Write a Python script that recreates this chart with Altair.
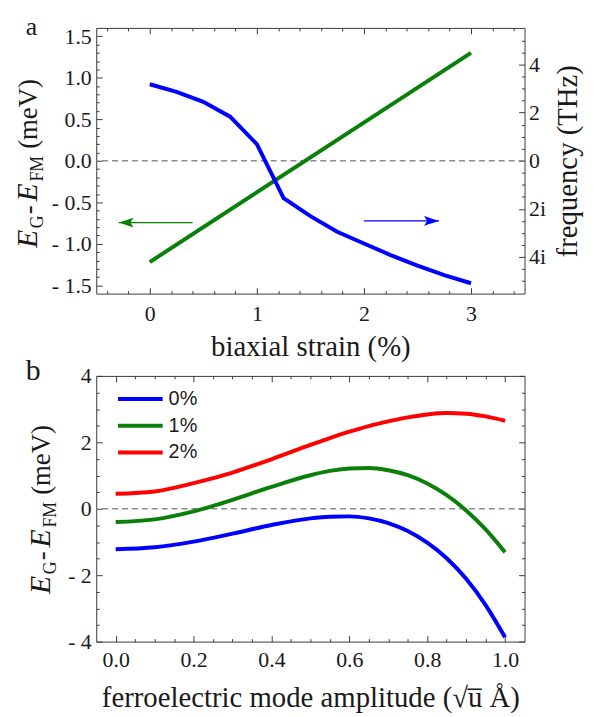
import altair as alt
import pandas as pd

SERIF = "Liberation Serif"
SANS = "Liberation Sans"
FRAME = "#3a3a3a"
INK = "#1a1a1a"
GREEN = "#0a800a"
BLUE = "#0000ff"
RED = "#ff0000"
DASH = "#8c8c8c"

# ---------------- panel a data ----------------
STRAIN_ENERGY = [0.0, 3.0]
ENERGY = [-1.22, 1.30]
STRAIN_FREQ = [0.0, 0.25, 0.5, 0.75, 1.0, 1.25, 1.5, 1.75, 2.0, 2.25, 2.5, 2.75, 3.0]
FREQ = [3.18, 2.86, 2.45, 1.83, 0.69, -1.55, -2.30, -2.95, -3.44, -3.92, -4.36, -4.75, -5.09]
GREEN_ARROW_X = [0.40, -0.29]   # tail, tip
GREEN_ARROW_Y = [-0.745]
BLUE_ARROW_X = [2.00, 2.70]     # tail, tip
BLUE_ARROW_Y = [-2.5]

A_X_MAJOR = [0, 1, 2, 3]
A_X_MINOR = [round(-0.4 + 0.2 * k, 1) for k in range(20) if round(-0.4 + 0.2 * k, 1) not in A_X_MAJOR]
A_Y_MAJOR = [-1.5, -1.0, -0.5, 0.0, 0.5, 1.0, 1.5]
A_Y_MINOR = [round(-1.5 + 0.1 * k, 1) for k in range(31) if round(-1.5 + 0.1 * k, 1) not in A_Y_MAJOR]
A_F_MAJOR = [-4, -2, 0, 2, 4]
A_F_MINOR = [v / 2 for v in range(-10, 11) if v / 2 not in A_F_MAJOR]

# ---------------- panel b data ----------------
AMP = [0.0, 0.1, 0.2, 0.3, 0.4, 0.5, 0.55, 0.6, 0.65, 0.7, 0.75, 0.8, 0.85, 0.9, 0.95, 1.0]
E_0 = [-1.22, -1.16, -0.99, -0.75, -0.49, -0.29, -0.24, -0.23, -0.29, -0.43, -0.67, -1.02, -1.49, -2.11, -2.90, -3.87]
E_1 = [-0.40, -0.32, -0.08, 0.27, 0.66, 1.01, 1.14, 1.21, 1.23, 1.16, 1.01, 0.76, 0.41, -0.05, -0.62, -1.31]
E_2 = [0.45, 0.52, 0.77, 1.09, 1.49, 1.92, 2.13, 2.32, 2.49, 2.63, 2.75, 2.84, 2.88, 2.86, 2.78, 2.65]
SERIES = ["0%", "1%", "2%"]
COLORS = [BLUE, GREEN, RED]

B_X_MAJOR = [0.0, 0.2, 0.4, 0.6, 0.8, 1.0]
B_X_MINOR = [round(0.05 * k, 2) for k in range(0, 21) if round(0.05 * k, 2) not in B_X_MAJOR]
B_Y_MAJOR = [-4, -2, 0, 2, 4]
B_Y_MINOR = [v / 2 for v in range(-7, 8) if v / 2 not in B_Y_MAJOR]

YTITLE = ["E", "G", "-", "E", "FM", "(meV)"]
PANEL_LABELS = ["a", "b"]
X_TITLE_A = "biaxial strain (%)"
X_TITLE_B = "ferroelectric mode amplitude (\u221au\u0305 \u00c5)"
F_TITLE = "frequency (THz)"

HEAD_LEFT = "M0,0 L1,-0.33 L0.78,0 L1,0.33 Z"
HEAD_RIGHT = "M0,0 L-1,-0.33 L-0.78,0 L-1,0.33 Z"


def major(orient, values, label_expr=None, pad=5, title=None, title_pad=6, labels=True, **extra):
    kw = dict(orient=orient, values=values, tickSize=6, offset=-6, domain=False, grid=False,
              tickColor=FRAME, tickWidth=1, labels=labels, title=title)
    if labels:
        kw.update(labelFont=SERIF, labelFontSize=22, labelColor=INK, labelPadding=pad,
                  labelOverlap=False, labelFlush=False)
        if label_expr:
            kw["labelExpr"] = label_expr
    if title:
        kw.update(titleFont=SERIF, titleFontSize=29, titleFontWeight="normal",
                  titleColor=INK, titlePadding=title_pad)
    kw.update(extra)
    return alt.Axis(**kw)


def minor(orient, values):
    return alt.Axis(orient=orient, values=values, tickSize=3, offset=-3, domain=False, grid=False,
                    labels=False, tickColor=FRAME, tickWidth=1, title=None)


def text_piece(txt, x, y, size, dx=0, dy=0, italic=False, angle=270, font=SERIF):
    props = dict(angle=angle, align="left", baseline="alphabetic", font=font, fontSize=size,
                 color=INK, dx=dx, dy=dy)
    if italic:
        props["fontStyle"] = "italic"
    return alt.Chart(pd.DataFrame({"t": [txt]})).mark_text(**props).encode(
        x=alt.value(x), y=alt.value(y), text="t:N")


def y_title(xb, yb):
    spec = [(30, True, 0, 0), (18, False, 20, 6), (27, False, 34, 0),
            (30, True, 47, 0), (18, False, 67, 6), (27, False, 100, 0)]
    return [text_piece(t, xb, yb, s, dx=dx, dy=dy, italic=it)
            for t, (s, it, dx, dy) in zip(YTITLE, spec)]


# ---------------- panel a ----------------
xa = alt.Scale(domain=[-0.5, 3.5], nice=False, zero=False)
ya = alt.Scale(domain=[-1.6, 1.6], nice=False, zero=False)
fa = alt.Scale(domain=[-5.52, 5.52], nice=False, zero=False)

df_e = pd.DataFrame({"s": STRAIN_ENERGY, "e": ENERGY})
df_f = pd.DataFrame({"s": STRAIN_FREQ, "f": FREQ})

green = alt.Chart(df_e).mark_line(color=GREEN, strokeWidth=4).encode(
    x=alt.X("s:Q", scale=xa, axis=major("bottom", A_X_MAJOR, "format(datum.value, 'd')", pad=10,
                                         title=X_TITLE_A, title_pad=8)),
    y=alt.Y("e:Q", scale=ya, axis=major(
        "left", A_Y_MAJOR,
        "datum.value < 0 ? '- ' + format(-datum.value, '.1f') : format(datum.value, '.1f')", pad=5)))

blue = alt.Chart(df_f).mark_line(color=BLUE, strokeWidth=4).encode(
    x=alt.X("s:Q", scale=xa, axis=minor("bottom", A_X_MINOR)),
    y=alt.Y("f:Q", scale=fa, axis=major(
        "right", A_F_MAJOR,
        "datum.value < 0 ? format(-datum.value, 'd') + 'i' : format(datum.value, 'd')", pad=4,
        title=F_TITLE, title_pad=8, titleAngle=270, titleBaseline="top")))

zero_a = alt.Chart(pd.DataFrame({"v": [0.0]})).mark_rule(
    color=DASH, strokeDash=[6, 4], strokeWidth=1.5).encode(
    y=alt.Y("v:Q", scale=ya, axis=minor("left", A_Y_MINOR)))

g_arrow = pd.DataFrame({"x1": [GREEN_ARROW_X[0]], "x2": [GREEN_ARROW_X[1]], "y": GREEN_ARROW_Y})
b_arrow = pd.DataFrame({"x1": [BLUE_ARROW_X[0]], "x2": [BLUE_ARROW_X[1]], "y": BLUE_ARROW_Y})

g_shaft = alt.Chart(g_arrow).mark_rule(color=GREEN, strokeWidth=1.3).encode(
    x=alt.X("x1:Q", scale=xa, axis=major("top", A_X_MAJOR, labels=False)),
    x2="x2:Q",
    y=alt.Y("y:Q", scale=ya, axis=None))
g_head = alt.Chart(g_arrow).mark_point(shape=HEAD_LEFT, size=900, filled=True, color=GREEN,
                                       opacity=1, strokeWidth=0).encode(
    x=alt.X("x2:Q", scale=xa, axis=minor("top", A_X_MINOR)),
    y=alt.Y("y:Q", scale=ya, axis=None))
b_shaft = alt.Chart(b_arrow).mark_rule(color=BLUE, strokeWidth=1.3).encode(
    x=alt.X("x1:Q", scale=xa, axis=None),
    x2="x2:Q",
    y=alt.Y("y:Q", scale=fa, axis=minor("right", A_F_MINOR)))
b_head = alt.Chart(b_arrow).mark_point(shape=HEAD_RIGHT, size=900, filled=True, color=BLUE,
                                       opacity=1, strokeWidth=0).encode(
    x=alt.X("x2:Q", scale=xa, axis=None),
    y=alt.Y("y:Q", scale=fa, axis=None))

label_a = text_piece(PANEL_LABELS[0], -71, 7, 26, angle=0)

panel_a = alt.layer(
    zero_a, green, blue, g_shaft, g_head, b_shaft, b_head, label_a, *y_title(-60, 222)
).resolve_scale(x="independent", y="independent").properties(width=432, height=268)

# ---------------- panel b ----------------
xb = alt.Scale(domain=[-0.05, 1.05], nice=False, zero=False)
yb = alt.Scale(domain=[-4, 4], nice=False, zero=False)

rows = []
for name, vals in zip(SERIES, [E_0, E_1, E_2]):
    for a, v in zip(AMP, vals):
        rows.append({"amp": a, "e": v, "series": name})
df_b = pd.DataFrame(rows)

color_enc = alt.Color("series:N", scale=alt.Scale(domain=SERIES, range=COLORS), legend=None)

lines_b = alt.Chart(df_b).mark_line(strokeWidth=4, interpolate="monotone").encode(
    x=alt.X("amp:Q", scale=xb, axis=major("bottom", B_X_MAJOR, "format(datum.value, '.1f')", pad=8,
                                           title=X_TITLE_B, title_pad=13)),
    y=alt.Y("e:Q", scale=yb, axis=major(
        "left", B_Y_MAJOR,
        "datum.value < 0 ? '- ' + format(-datum.value, 'd') : format(datum.value, 'd')", pad=5)),
    color=color_enc)

zero_b = alt.Chart(pd.DataFrame({"v": [0.0]})).mark_rule(
    color=DASH, strokeDash=[6, 4], strokeWidth=1.5).encode(
    y=alt.Y("v:Q", scale=yb, axis=minor("left", B_Y_MINOR)))

ghost1 = alt.Chart(df_b).mark_line(strokeOpacity=0).encode(
    x=alt.X("amp:Q", scale=xb, axis=minor("bottom", B_X_MINOR)),
    y=alt.Y("e:Q", scale=yb, axis=major("right", B_Y_MAJOR, labels=False)),
    detail="series:N")
ghost2 = alt.Chart(df_b).mark_line(strokeOpacity=0).encode(
    x=alt.X("amp:Q", scale=xb, axis=major("top", B_X_MAJOR, labels=False)),
    y=alt.Y("e:Q", scale=yb, axis=minor("right", B_Y_MINOR)),
    detail="series:N")
ghost3 = alt.Chart(df_b).mark_line(strokeOpacity=0).encode(
    x=alt.X("amp:Q", scale=xb, axis=minor("top", B_X_MINOR)),
    y=alt.Y("e:Q", scale=yb, axis=None),
    detail="series:N")

leg = pd.DataFrame({"series": SERIES})
leg_y = alt.Y("series:N", scale=alt.Scale(domain=SERIES, type="point", range=[23.3, 77.3], padding=0),
              axis=None)
leg_rule = alt.Chart(leg).mark_rule(strokeWidth=4).encode(
    x=alt.value(22), x2=alt.value(67), y=leg_y, color=color_enc)
leg_text = alt.Chart(leg).mark_text(align="left", baseline="middle", font=SANS, fontSize=20,
                                    color=INK).encode(
    x=alt.value(73), y=leg_y, text="series:N")

label_b = text_piece(PANEL_LABELS[1], -71, 4, 30, angle=0)

panel_b = alt.layer(
    zero_b, lines_b, ghost1, ghost2, ghost3, leg_rule, leg_text, label_b, *y_title(-47, 220)
).resolve_scale(x="independent", y="independent").properties(width=432, height=268)

chart = alt.vconcat(panel_a, panel_b, spacing=83, bounds="flush").properties(
    padding={"left": 4, "top": 2, "right": 4, "bottom": 4},
    background="white",
).configure_view(stroke=FRAME, strokeWidth=1)

chart.save("out.html", embed_options={"renderer": "svg", "actions": False})
